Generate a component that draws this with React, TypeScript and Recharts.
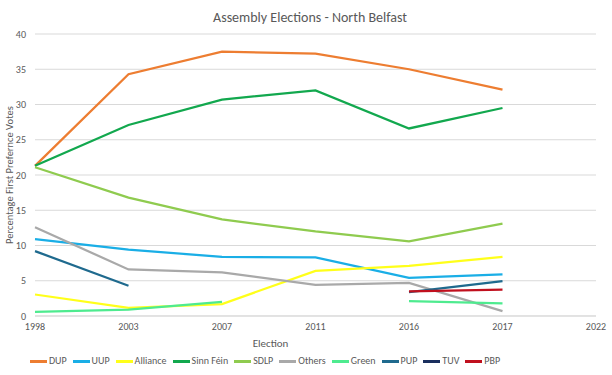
import React from 'react';
import { LineChart, Line, XAxis, YAxis, CartesianGrid, Legend, Label } from 'recharts';

const years = ['1998', '2003', '2007', '2011', '2016', '2017', '2022'];

const dup = [21.3, 34.3, 37.5, 37.2, 35.0, 32.1, null];
const uup = [10.9, 9.4, 8.4, 8.3, 5.4, 5.9, null];
const alliance = [3.05, 1.15, 1.7, 6.4, 7.1, 8.4, null];
const sinnFein = [21.3, 27.1, 30.7, 32.0, 26.6, 29.5, null];
const sdlp = [21.1, 16.8, 13.7, 12.0, 10.6, 13.1, null];
const others = [12.6, 6.6, 6.2, 4.4, 4.7, 0.7, null];
const green = [0.6, 0.9, 2.0, null, 2.1, 1.8, null];
const pup = [9.2, 4.3, null, null, 3.4, 4.95, null];
const tuv = [null, null, null, null, null, null, null];
const pbp = [null, null, null, null, 3.5, 3.75, null];

const series = [
  { key: 'DUP', values: dup, color: '#ED7D31' },
  { key: 'UUP', values: uup, color: '#1AAEE6' },
  { key: 'Alliance', values: alliance, color: '#FFFF1A' },
  { key: 'Sinn Féin', values: sinnFein, color: '#12A84E' },
  { key: 'SDLP', values: sdlp, color: '#8FCB4F' },
  { key: 'Others', values: others, color: '#A9A9A9' },
  { key: 'Green', values: green, color: '#4EEB8F' },
  { key: 'PUP', values: pup, color: '#1F6A8E' },
  { key: 'TUV', values: tuv, color: '#1A2F5E' },
  { key: 'PBP', values: pbp, color: '#C0101E' },
];

const data = years.map((year, i) => {
  const row: Record<string, string | number | null> = { year };
  series.forEach((s) => {
    row[s.key] = s.values[i];
  });
  return row;
});

const FONT = 'Calibri, Carlito, "Liberation Sans", Arial, sans-serif';
const TEXT = '#595959';

// legend drawn in series order (recharts would sort it by name)
const renderLegend = () => (
  <div style={{ display: 'flex', justifyContent: 'center', gap: 6, fontSize: 10, fontFamily: FONT, color: TEXT, lineHeight: '14px', whiteSpace: 'nowrap' }}>
    {series.map((s) => (
      <div key={s.key} style={{ display: 'flex', alignItems: 'center' }}>
        <span style={{ display: 'inline-block', width: 17, height: 3, background: s.color, marginRight: 2 }} />
        <span>{s.key}</span>
      </div>
    ))}
  </div>
);

const App: React.FC = () => {
  return (
    <div style={{ position: 'absolute', left: 0, top: 0, width: 612, height: 375, background: '#fff', fontFamily: FONT }}>
      <div
        style={{
          position: 'absolute',
          top: 9,
          left: 0,
          width: 620,
          textAlign: 'center',
          fontSize: 14,
          color: TEXT,
        }}
      >
        Assembly Elections - North Belfast
      </div>
      <LineChart width={612} height={375} data={data} margin={{ top: 34, right: 16, left: 0, bottom: 13 }}>
        <CartesianGrid vertical={false} stroke="#D9D9D9" />
        <XAxis
          dataKey="year"
          tickLine={false}
          tickSize={0}
          tickMargin={7}
          axisLine={{ stroke: '#D9D9D9' }}
          tick={{ fontSize: 10, fill: TEXT, fontFamily: FONT }}
          height={32}
          interval={0}
        >
          <Label value="Election" position="insideBottom" offset={1} dx={-45} fontSize={11} fill={TEXT} fontFamily={FONT} />
        </XAxis>
        <YAxis
          domain={[0, 40]}
          ticks={[0, 5, 10, 15, 20, 25, 30, 35, 40]}
          width={35}
          tickLine={false}
          tickSize={0}
          tickMargin={9}
          axisLine={false}
          tick={{ fontSize: 10, fill: TEXT, fontFamily: FONT }}
        >
          <Label
            content={({ viewBox }: any) => {
              const cy = viewBox.y + viewBox.height / 2;
              return (
                <text
                  x={10}
                  y={cy}
                  transform={`rotate(-90, 10, ${cy})`}
                  textAnchor="middle"
                  dominantBaseline="middle"
                  fontSize={10.5}
                  fill={TEXT}
                  fontFamily={FONT}
                >
                  Percentage First Prefernce Votes
                </text>
              );
            }}
          />
        </YAxis>
        <Legend
          verticalAlign="bottom"
          content={renderLegend}
          wrapperStyle={{ left: 25, width: 480, bottom: 7 }}
        />
        {series.map((s) => (
          <Line
            key={s.key}
            type="linear"
            dataKey={s.key}
            stroke={s.color}
            strokeWidth={2.25}
            dot={false}
            activeDot={false}
            isAnimationActive={false}
            connectNulls={false}
            legendType="plainline"
          />
        ))}
      </LineChart>
    </div>
  );
};

export default App;
